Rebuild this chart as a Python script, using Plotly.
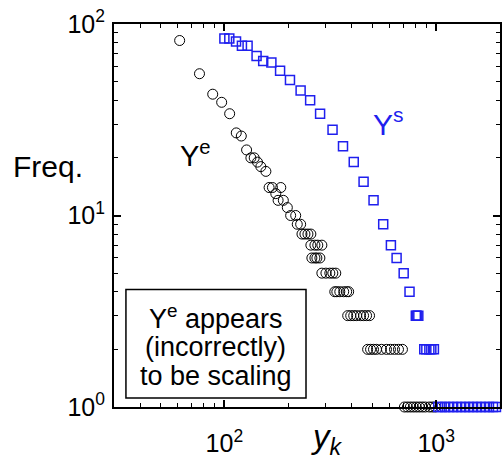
import plotly.graph_objects as go

# ---- data ----
ye_x = [61.5, 76.3, 88.1, 97.1, 105.9, 113.8, 120.2, 127.3, 133.4, 138.3, 143.3, 148.6, 157.0,
        162.6, 168.6, 184.6, 174.9, 179.3, 189.8, 198.2, 205.5, 217.1, 220.8, 229.1,
        232.4, 240.0, 248.0, 256.0,
        256.0, 267.5, 276.0, 288.5,
        258.8, 267.5, 273.3, 282.4,
        288.5, 301.5, 314.6, 325.0, 335.6,
        332.0, 339.5, 350.6, 365.8, 377.8, 386.0,
        382.0, 394.8, 407.9, 421.0, 439.8, 454.0, 469.0, 484.5,
        474.4, 489.8, 505.8, 522.4, 551.6, 582.5, 608.2, 635.2, 663.4, 692.7,
        707.6, 730.8, 755.0, 779.8, 805.4, 832.0, 859.4, 887.6, 926.9, 957.5, 989.0]
ye_f = [82, 55, 43, 39, 34, 27, 26, 22, 20, 20, 19, 18, 17,
        14, 14, 14, 13, 12, 12, 11, 10, 10, 9, 9,
        8, 8, 8, 8,
        7, 7, 7, 7,
        6, 6, 6, 6,
        5, 5, 5, 5, 5,
        4, 4, 4, 4, 4, 4,
        3, 3, 3, 3, 3, 3, 3, 3,
        2, 2, 2, 2, 2, 2, 2, 2, 2, 2,
        1, 1, 1, 1, 1, 1, 1, 1, 1, 1, 1]

ys_x = [100.0, 105.5, 113.5, 121.0, 128.7, 141.9, 152.5, 166.7, 183.2, 204.0, 229.0, 254.0,
        283.0, 324.0, 363.0, 408.0, 454.0, 506.0, 562.0, 611.0, 650.0, 702.0, 748.0,
        801.0, 809.0, 823.0,
        878.0, 898.0, 928.0, 948.0, 975.0,
        1022, 1061, 1102, 1151, 1202, 1255, 1311, 1369, 1429, 1492, 1558, 1627, 1699, 1774,
        1853, 1914]
ys_f = [84, 84, 81, 77, 77, 68, 64, 63, 57, 51, 45, 40,
        34, 28, 23, 19, 15, 12, 9, 7, 6, 5, 4,
        3, 3, 3,
        2, 2, 2, 2, 2,
        1, 1, 1, 1, 1, 1, 1, 1, 1, 1, 1, 1, 1, 1, 1, 1]

x_tickvals = [100, 1000]
x_ticktext = ["10<sup>2</sup>", "10<sup>3</sup>"]
y_tickvals = [1, 10, 100]
y_ticktext = ["10<sup>0</sup>", "10<sup>1</sup>", "10<sup>2</sup>"]
x_minor = [40, 50, 60, 70, 80, 90, 200, 300, 400, 500, 600, 700, 800, 900]
y_minor = [2, 3, 4, 5, 6, 7, 8, 9, 20, 30, 40, 50, 60, 70, 80, 90]

FONT = "Liberation Sans, Arial, sans-serif"
BLUE = "#1f1fee"

fig = go.Figure()
fig.add_trace(go.Scatter(x=ye_x, y=ye_f, mode="markers", cliponaxis=False,
                         marker=dict(symbol="circle-open", size=10, color="black",
                                     line=dict(color="black", width=1)),
                         showlegend=False))
fig.add_trace(go.Scatter(x=ys_x, y=ys_f, mode="markers", cliponaxis=False,
                         marker=dict(symbol="square-open", size=9, color=BLUE,
                                     line=dict(color=BLUE, width=1.5)),
                         showlegend=False))

fig.update_layout(
    width=503, height=458,
    margin=dict(l=114, r=1, t=24, b=46),
    paper_bgcolor="white", plot_bgcolor="white",
    font=dict(family=FONT, color="black"),
)

fig.update_xaxes(type="log", range=[1.479, 3.301],
                 tickvals=x_tickvals, ticktext=x_ticktext,
                 ticks="inside", ticklen=7, tickwidth=1.5, tickcolor="black",
                 showline=True, linewidth=2, linecolor="black", mirror="allticks",
                 showgrid=False, zeroline=False,
                 tickfont=dict(size=25, family=FONT, color="black"),
                 ticklabelstandoff=13,
                 minor=dict(tickvals=x_minor, ticks="inside", ticklen=4, tickwidth=1,
                            tickcolor="black", showgrid=False))
fig.update_yaxes(type="log", range=[0, 2],
                 tickvals=y_tickvals, ticktext=y_ticktext,
                 ticks="inside", ticklen=7, tickwidth=1.5, tickcolor="black",
                 showline=True, linewidth=2, linecolor="black", mirror="allticks",
                 showgrid=False, zeroline=False,
                 tickfont=dict(size=25, family=FONT, color="black"),
                 ticklabelstandoff=2,
                 minor=dict(tickvals=y_minor, ticks="inside", ticklen=4, tickwidth=1,
                            tickcolor="black", showgrid=False))

# axis titles as free text
fig.add_annotation(text="Freq.", xref="paper", yref="paper", x=(48 - 114) / 388, y=(412 - 168) / 388,
                   xanchor="center", yanchor="middle", showarrow=False,
                   font=dict(size=30, family=FONT, color="black"))
fig.add_annotation(text="<i>y<sub>k</sub></i>", xref="paper", yref="paper", x=(328 - 114) / 388,
                   y=(412 - 444) / 388,
                   xanchor="center", yanchor="middle", showarrow=False,
                   font=dict(size=33, family=FONT, color="black"))

# series labels
fig.add_annotation(text="Y<sup>e</sup>", xref="x", yref="y", x=1.864, y=1.32,
                   xanchor="center", yanchor="middle", showarrow=False,
                   font=dict(size=29, family=FONT, color="black"))
fig.add_annotation(text="Y<sup>s</sup>", xref="x", yref="y", x=2.775, y=1.49,
                   xanchor="center", yanchor="middle", showarrow=False,
                   font=dict(size=30, family=FONT, color=BLUE))

# note box
fig.add_shape(type="rect", xref="paper", yref="paper",
              x0=(126 - 114) / 388, x1=(307 - 114) / 388,
              y0=(412 - 403) / 388, y1=(412 - 293) / 388,
              line=dict(color="black", width=1.5), fillcolor="rgba(0,0,0,0)")
for txt, py in [("Y<sup>e</sup> appears", 321), ("(incorrectly)", 351), ("to be scaling", 381)]:
    fig.add_annotation(text=txt, xref="paper", yref="paper",
                       x=(216.5 - 114) / 388, y=(412 - py) / 388,
                       xanchor="center", yanchor="middle", showarrow=False,
                       font=dict(size=27, family=FONT, color="black"))

fig.write_html("out.html")
